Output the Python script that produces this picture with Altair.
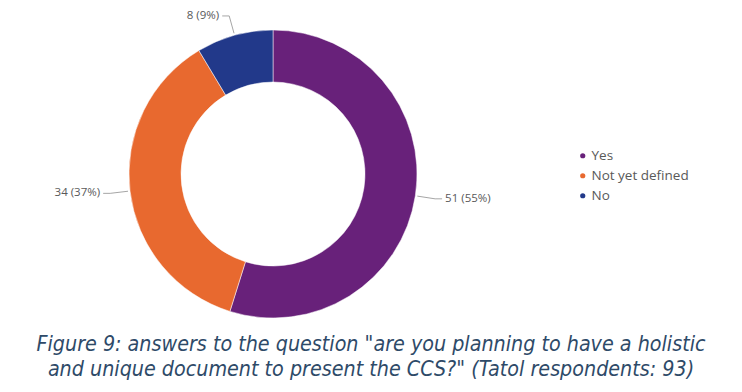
import math
import altair as alt
import pandas as pd

categories = ["Yes", "Not yet defined", "No"]
counts = [51, 34, 8]
percents = [55, 37, 9]
colors = ["#68217A", "#E8692F", "#22398A"]
title_lines = [
    'Figure 9: answers to the question  "are you planning to have a holistic',
    'and unique document to present the CCS?" (Tatol respondents: 93)',
]

W, H = 726, 376
CX, CY = 265, 166
R_OUT, R_IN = 144, 92

df = pd.DataFrame({"category": categories, "count": counts, "pct": percents,
                   "order": list(range(len(categories)))})
df["label"] = [f"{c} ({p}%)" for c, p in zip(counts, percents)]

# leader lines derived from slice mid angles
total = sum(counts)
rows, lab_rows = [], []
cum = 0
for i, (cat, c) in enumerate(zip(categories, counts)):
    mid = (cum + c / 2) / total * 2 * math.pi
    cum += c
    s, co = math.sin(mid), -math.cos(mid)
    side = 1 if s >= 0 else -1
    p1 = (146 * s, 146 * co)
    p2 = (164 * s, 164 * co)
    p3 = (p2[0] + side * 7, p2[1])
    for k, p in enumerate([p1, p2, p3]):
        rows.append({"category": cat, "k": k, "x": p[0], "y": p[1]})
    lab_rows.append({"category": cat, "x": p3[0] + side * 3, "y": p3[1],
                     "label": df.loc[i, "label"], "side": side})
lines = pd.DataFrame(rows)
labs = pd.DataFrame(lab_rows)

xs = alt.Scale(domain=[-CX, W - CX], range=[0, W])
ys = alt.Scale(domain=[-CY, H - CY], range=[0, H])

color_scale = alt.Scale(domain=categories, range=colors)

arc = alt.Chart(df).mark_arc(radius=R_OUT, radius2=R_IN, stroke="white", strokeWidth=0.5).encode(
    theta=alt.Theta("count:Q", stack=True),
    order=alt.Order("order:Q"),
    color=alt.Color("category:N", scale=color_scale, sort=categories,
                    legend=alt.Legend(title=None, orient="none", legendX=568, legendY=141,
                                      symbolType="circle", symbolSize=45, labelFontSize=13.5,
                                      labelColor="#595959", labelFont="Open Sans",
                                      rowPadding=5, symbolOffset=0, labelOffset=2)),
    x=alt.value(CX), y=alt.value(CY),
)

leader = alt.Chart(lines).mark_line(color="#A6A6A6", strokeWidth=1).encode(
    x=alt.X("x:Q", scale=xs, axis=None),
    y=alt.Y("y:Q", scale=ys, axis=None),
    detail="category:N",
    order="k:Q",
)

lab_r = alt.Chart(labs[labs.side > 0]).mark_text(align="left", baseline="middle", fontSize=11.5,
                                                 font="Open Sans", color="#595959").encode(
    x=alt.X("x:Q", scale=xs, axis=None), y=alt.Y("y:Q", scale=ys, axis=None), text="label:N")
lab_l = alt.Chart(labs[labs.side < 0]).mark_text(align="right", baseline="middle", fontSize=11.5,
                                                 font="Open Sans", color="#595959").encode(
    x=alt.X("x:Q", scale=xs, axis=None), y=alt.Y("y:Q", scale=ys, axis=None), text="label:N")

tdf = pd.DataFrame({"t": title_lines, "i": [0, 1]})
title = alt.Chart(tdf).mark_text(align="center", baseline="alphabetic", fontSize=21.3,
                                 font="DejaVu Sans Condensed, Roboto, sans-serif", fontStyle="italic",
                                 color="#2E4A68").encode(
    x=alt.value(363),
    y=alt.Y("i:Q", scale=alt.Scale(domain=[0, 1], range=[343, 368]), axis=None),
    text="t:N",
)

chart = alt.layer(arc, leader, lab_r, lab_l, title).resolve_scale(y="independent").properties(
    width=W, height=H, autosize=alt.AutoSizeParams(type="none"), padding=0
).configure_view(stroke=None)

chart.save("out.html", embed_options={"renderer": "svg", "actions": False})
